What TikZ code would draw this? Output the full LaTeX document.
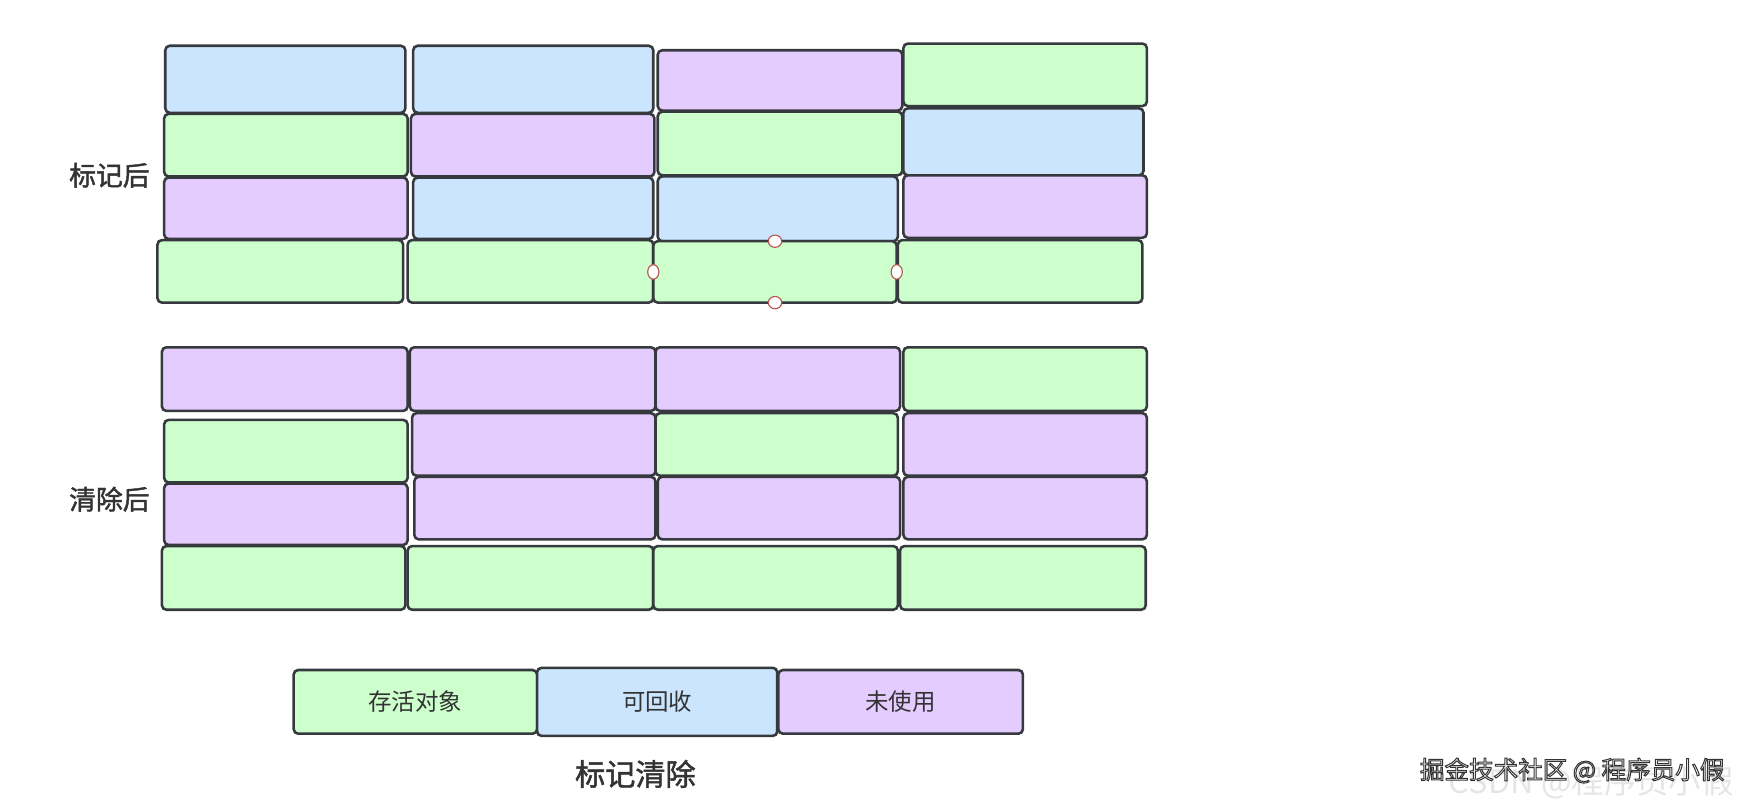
\documentclass[tikz,border=0pt]{standalone}
\usepackage{fontspec}
\newfontfamily\cjk{Noto Sans CJK SC}
\newfontfamily\cjkb[FakeBold=1.6]{Noto Sans CJK SC}
\definecolor{gfill}{HTML}{CCFFCC}
\definecolor{bfill}{HTML}{CCE5FF}
\definecolor{pfill}{HTML}{E5CCFF}
\definecolor{edge}{HTML}{36393D}
\definecolor{handle}{HTML}{B85450}
\definecolor{txt}{HTML}{333333}
\usetikzlibrary{shapes.geometric}
\tikzset{
  box/.style={draw=edge, line width=2.3pt, rounded corners=4pt, inner sep=0pt, outer sep=0pt},
  sidelabel/.style={font=\cjkb\fontsize{24}{26}\selectfont, text=txt},
  legtext/.style={font=\cjk\fontsize{21}{23}\selectfont, text=txt},
  hdl/.style={draw=handle, fill=white, line width=1pt, ellipse, inner sep=0pt},
}
\newcommand\blk[6]{\node[box,fill=#6,minimum width={#4-#2},minimum height={#5-#3}] (#1) at ({(#2+#4)/2},{(#3+#5)/2}) {};}
\newcommand\outlined[1]{\special{pdf:literal direct 2 Tr 0.9 w 0.2 0.2 0.2 RG}#1\special{pdf:literal direct 0 Tr}}
\begin{document}
\begin{tikzpicture}[x=1pt,y=-1pt]
\useasboundingbox (0,0) rectangle (1568,722);
% ---- top grid (after marking)
\blk{a11}{148}{41}{363}{101}{bfill}
\blk{a12}{370}{41}{585}{101}{bfill}
\blk{a13}{589}{45}{808}{99}{pfill}
\blk{a14}{809}{39}{1027}{95}{gfill}
\blk{a21}{147}{102}{365}{158}{gfill}
\blk{a22}{368}{102}{586}{158}{pfill}
\blk{a23}{589}{100}{808}{157}{gfill}
\blk{a24}{809}{97}{1024}{157}{bfill}
\blk{a31}{147}{159}{365}{214}{pfill}
\blk{a32}{370}{159}{585}{214}{bfill}
\blk{a33}{589}{158}{804}{216}{bfill}
\blk{a34}{809}{157}{1027}{213}{pfill}
\blk{a41}{141}{215}{361}{271}{gfill}
\blk{a42}{365}{215}{585}{271}{gfill}
\blk{a43}{585}{216}{803}{271}{gfill}
\blk{a44}{804}{215}{1023}{271}{gfill}
% selection handles
\node[hdl, minimum width=12pt, minimum height=11pt] (h1) at (a43.north) {};
\node[hdl, minimum width=12pt, minimum height=11pt] (h2) at (a43.south) {};
\node[hdl, minimum width=10pt, minimum height=13pt] (h3) at (a43.west) {};
\node[hdl, minimum width=10pt, minimum height=13pt] (h4) at (a43.east) {};
\node[sidelabel] (lab1) at (98,157) {标记后};
% ---- bottom grid (after sweeping)
\blk{b11}{145}{311}{365}{368}{pfill}
\blk{b12}{367}{311}{587}{368}{pfill}
\blk{b13}{587}{311}{806}{368}{pfill}
\blk{b14}{809}{311}{1027}{368}{gfill}
\blk{b21}{147}{376}{365}{432}{gfill}
\blk{b22}{369}{370}{587}{426}{pfill}
\blk{b23}{587}{370}{804}{426}{gfill}
\blk{b24}{809}{370}{1027}{426}{pfill}
\blk{b31}{147}{433}{365}{488}{pfill}
\blk{b32}{371}{427}{587}{483}{pfill}
\blk{b33}{589}{427}{806}{483}{pfill}
\blk{b34}{809}{427}{1027}{483}{pfill}
\blk{b41}{145}{489}{363}{546}{gfill}
\blk{b42}{365}{489}{585}{546}{gfill}
\blk{b43}{585}{489}{804}{546}{gfill}
\blk{b44}{806}{489}{1026}{546}{gfill}
\node[sidelabel] (lab2) at (98,447) {清除后};
% ---- legend
\blk{l1}{263}{600}{481}{657}{gfill}
\blk{l2}{481}{598}{696}{659}{bfill}
\blk{l3}{697}{600}{916}{657}{pfill}
\node[legtext] (t1) at (l1) {存活对象};
\node[legtext] (t2) at (l2) {可回收};
\node[legtext] (t3) at (l3) {未使用};
\node[font=\cjkb\fontsize{27}{29}\selectfont, text=txt] (title) at (569,693) {标记清除};
% ---- watermarks
\node[anchor=west, font=\cjk\fontsize{29}{31}\selectfont, text=black!10] (wm2) at (1294,701) {CSDN @程序员小假};
\node[anchor=west, font=\cjk\fontsize{22}{24}\selectfont, text=white] (wm1) at (1268,690) {\outlined{掘金技术社区 @ 程序员小假}};
\end{tikzpicture}
\end{document}
